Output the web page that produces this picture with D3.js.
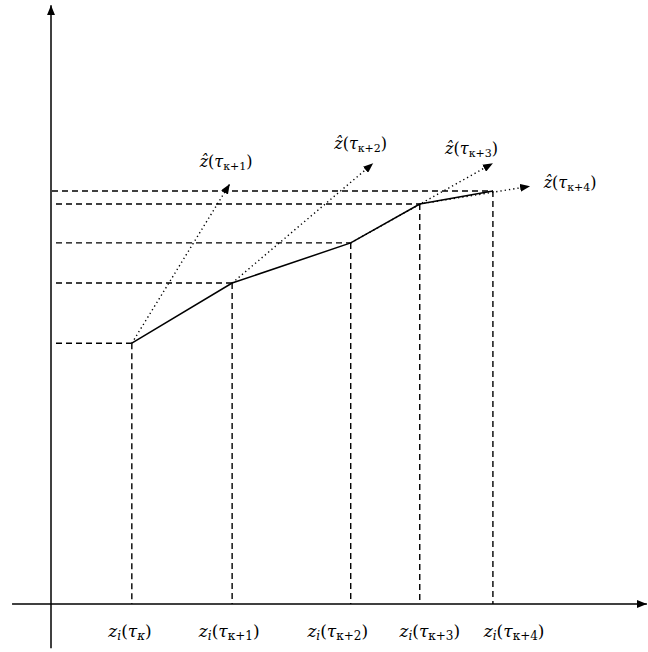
<!DOCTYPE html>
<html><head><meta charset="utf-8">
<script src="https://cdn.jsdelivr.net/npm/d3@7"></script>
<style>body{margin:0;background:#fff}svg{display:block}</style>
</head><body><div id="chart"></div>
<script>
// ---- data ----
const pointX = [1.37, 3.07, 5.08, 6.25, 7.49];
const pointY = [4.42, 5.44, 6.12, 6.78, 7.00];
const arrowTipX = [3.03, 5.46, 7.49, 8.12];
const arrowTipY = [7.12, 7.47, 7.47, 7.08];
const xLabelSubs = ["κ", "κ+1", "κ+2", "κ+3", "κ+4"];
const xLabelX = [1.34, 3.02, 4.86, 6.42, 7.85]; // label centres
const zhatLabelSubs = ["κ+1", "κ+2", "κ+3", "κ+4"];
const zhatLabelPos = [[2.52, 7.40], [4.80, 7.72], [6.68, 7.63], [8.35, 7.05]]; // label anchor (left, baseline)
const xAxisExtent = [-0.66, 10.1];
const yAxisExtent = [-0.75, 10.15];

const W = 648, H = 652;
const x = d3.scaleLinear().domain([0, 10]).range([51, 641]);
const y = d3.scaleLinear().domain([0, 10]).range([604, 14]);

const svg = d3.select("#chart").append("svg").attr("width", W).attr("height", H);
const defs = svg.append("defs");
defs.append("marker").attr("id", "ah").attr("viewBox", "0 0 10 8")
  .attr("refX", 10).attr("refY", 4).attr("markerWidth", 10).attr("markerHeight", 8)
  .attr("markerUnits", "userSpaceOnUse").attr("orient", "auto")
  .append("path").attr("d", "M0,0 L10,4 L0,8 Z").attr("fill", "#000");

// axes
svg.append("line").attr("x1", x(xAxisExtent[0])).attr("y1", y(0)).attr("x2", x(xAxisExtent[1])).attr("y2", y(0))
  .attr("stroke", "#000").attr("stroke-width", 1.5).attr("marker-end", "url(#ah)");
svg.append("line").attr("x1", x(0)).attr("y1", y(yAxisExtent[0])).attr("x2", x(0)).attr("y2", y(yAxisExtent[1]))
  .attr("stroke", "#000").attr("stroke-width", 1.5).attr("marker-end", "url(#ah)");

const pts = pointX.map((v, i) => [v, pointY[i]]);

// horizontal dashed
svg.selectAll(".hd").data(pts).enter().append("line")
  .attr("x1", (d, i) => i === pts.length - 1 ? x(0) + 1 : x(0) + 5).attr("x2", d => x(d[0]))
  .attr("y1", d => y(d[1])).attr("y2", d => y(d[1]))
  .attr("stroke", "#000").attr("stroke-width", 1.4).attr("stroke-dasharray", "6,4");
// vertical dashed
svg.selectAll(".vd").data(pts).enter().append("line")
  .attr("x1", d => x(d[0])).attr("x2", d => x(d[0]))
  .attr("y1", d => y(d[1])).attr("y2", y(0))
  .attr("stroke", "#000").attr("stroke-width", 1.4).attr("stroke-dasharray", "6,4");

// dotted arrows
svg.selectAll(".da").data(arrowTipX).enter().append("line")
  .attr("x1", (d, i) => x(pointX[i])).attr("y1", (d, i) => y(pointY[i]))
  .attr("x2", d => x(d)).attr("y2", (d, i) => y(arrowTipY[i]))
  .attr("stroke", "#000").attr("stroke-width", 1.4).attr("stroke-dasharray", "1.3,3")
  .attr("marker-end", "url(#ah)");

// solid polyline
svg.append("path").datum(pts)
  .attr("d", d3.line().x(d => x(d[0])).y(d => y(d[1])))
  .attr("fill", "none").attr("stroke", "#000").attr("stroke-width", 1.5);

const font = '"DejaVu Serif", "Liberation Serif", serif';

// x labels
xLabelSubs.forEach((s, i) => {
  const t = svg.append("text").attr("x", x(xLabelX[i])).attr("y", 637)
    .attr("text-anchor", "middle").style("font-family", font).style("font-size", "17px").attr("fill", "#000");
  t.append("tspan").style("font-style", "italic").text("z");
  t.append("tspan").style("font-style", "italic").style("font-size", "12px").attr("dy", 3).text("i");
  t.append("tspan").attr("dy", -3).text("(");
  t.append("tspan").style("font-style", "italic").text("τ");
  t.append("tspan").style("font-style", s === "κ" ? "italic" : "normal").style("font-size", "12px").attr("dy", 3).text(s);
  t.append("tspan").attr("dy", -3).text(")");
});

// zhat labels
zhatLabelSubs.forEach((s, i) => {
  const t = svg.append("text").attr("x", x(zhatLabelPos[i][0])).attr("y", y(zhatLabelPos[i][1]))
    .style("font-family", font).style("font-size", "16px").attr("fill", "#000");
  t.append("tspan").style("font-style", "italic").text("ẑ");
  t.append("tspan").text("(");
  t.append("tspan").style("font-style", "italic").text("τ");
  t.append("tspan").style("font-size", "11px").attr("dy", 3).text(s);
  t.append("tspan").attr("dy", -3).text(")");
});
</script></body></html>
